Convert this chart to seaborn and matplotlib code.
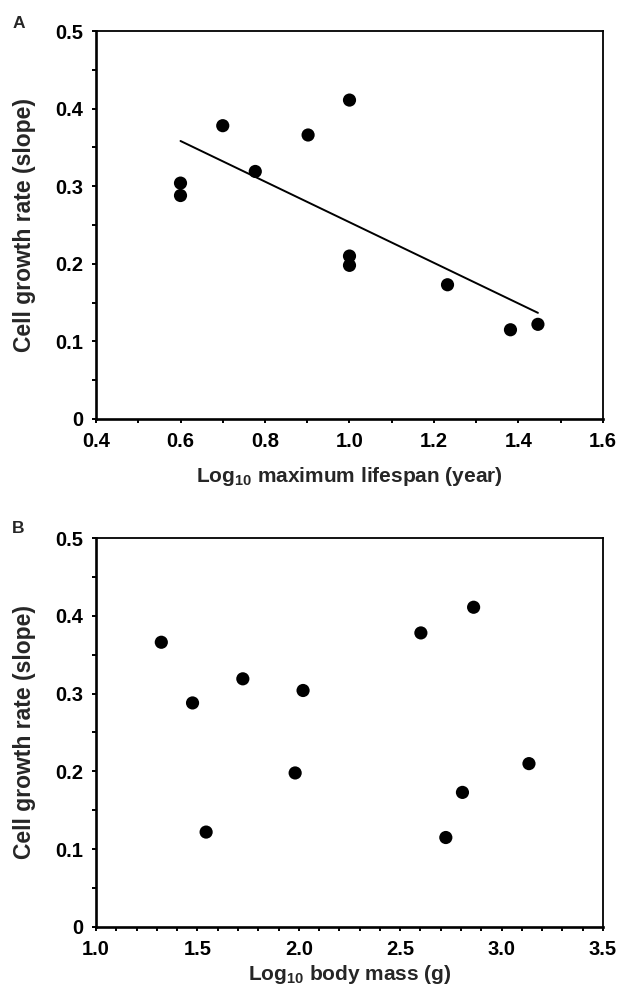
import numpy as np
import pandas as pd
import seaborn as sns
import matplotlib.pyplot as plt
from matplotlib.ticker import MultipleLocator

# Values (same species in both)
growth_rate = [0.304, 0.288, 0.378, 0.319, 0.366, 0.411, 0.210, 0.198, 0.173, 0.115, 0.122]
log_lifespan = [0.60, 0.60, 0.70, 0.777, 0.902, 1.00, 1.00, 1.00, 1.232, 1.381, 1.446]
log_body_mass = [2.021, 1.476, 2.602, 1.724, 1.322, 2.862, 3.135, 1.982, 2.807, 2.725, 1.543]

x_ticks_a = [0.4, 0.6, 0.8, 1.0, 1.2, 1.4, 1.6]
x_ticks_b = [1.0, 1.5, 2.0, 2.5, 3.0, 3.5]
y_ticks = [0, 0.1, 0.2, 0.3, 0.4, 0.5]

df = pd.DataFrame({
    "rate": growth_rate,
    "lifespan": log_lifespan,
    "mass": log_body_mass,
})

sns.set_style("ticks")
plt.rcParams['font.family'] = ['Liberation Sans', 'DejaVu Sans']
plt.rcParams['font.weight'] = 'bold'
plt.rcParams['mathtext.default'] = 'regular'

fig = plt.figure(figsize=(6.21, 9.91), dpi=100)
ax_a = fig.add_axes([0.1546, 0.5772, 0.8164, 0.3915])
ax_b = fig.add_axes([0.1546, 0.0646, 0.8164, 0.3925])


def style_axis(ax, xticks, xminor, xlabel, xpad):
    ax.set_xlim(xticks[0], xticks[-1])
    ax.set_ylim(0, 0.5)
    ax.set_xticks(xticks)
    ax.set_yticks(y_ticks)
    ax.xaxis.set_minor_locator(MultipleLocator(xminor))
    ax.yaxis.set_minor_locator(MultipleLocator(0.05))
    ax.set_xticklabels([f"{t:.1f}" for t in xticks])
    ax.set_yticklabels(["0" if t == 0 else f"{t:.1f}" for t in y_ticks])
    ax.tick_params(which='both', direction='out', width=1.4, colors='black',
                   labelsize=14.5, pad=6)
    ax.tick_params(which='major', length=3.2)
    ax.tick_params(which='minor', length=2.6)
    for side, sp in ax.spines.items():
        sp.set_visible(True)
        sp.set_color('black')
        sp.set_linewidth(1.9 if side in ('left', 'bottom') else 1.3)
    ax.set_xlabel(xlabel, fontsize=15, fontweight='bold', labelpad=xpad)
    ax.set_ylabel("Cell growth rate (slope)", fontsize=16.5, fontweight='bold', labelpad=14)


# Panel A: growth rate vs lifespan, with regression line
sns.scatterplot(data=df, x="lifespan", y="rate", ax=ax_a, color='black',
                s=90, edgecolor='none', legend=False)
sns.regplot(data=df, x="lifespan", y="rate", ax=ax_a, ci=None, scatter=False,
            truncate=True, line_kws={'color': 'black', 'linewidth': 1.4})
style_axis(ax_a, x_ticks_a, 0.1, r"Log$_{10}$ maximum lifespan (year)", 10)

# Panel B: growth rate vs body mass
sns.scatterplot(data=df, x="mass", y="rate", ax=ax_b, color='black',
                s=90, edgecolor='none', legend=False)
style_axis(ax_b, x_ticks_b, 0.1, r"Log$_{10}$ body mass (g)", 3)

fig.text(0.0298, 0.9758, "A", fontsize=12.5, fontweight='bold', ha='center', va='center')
fig.text(0.0298, 0.4662, "B", fontsize=12.5, fontweight='bold', ha='center', va='center')

fig.savefig("out.png", dpi=100)
